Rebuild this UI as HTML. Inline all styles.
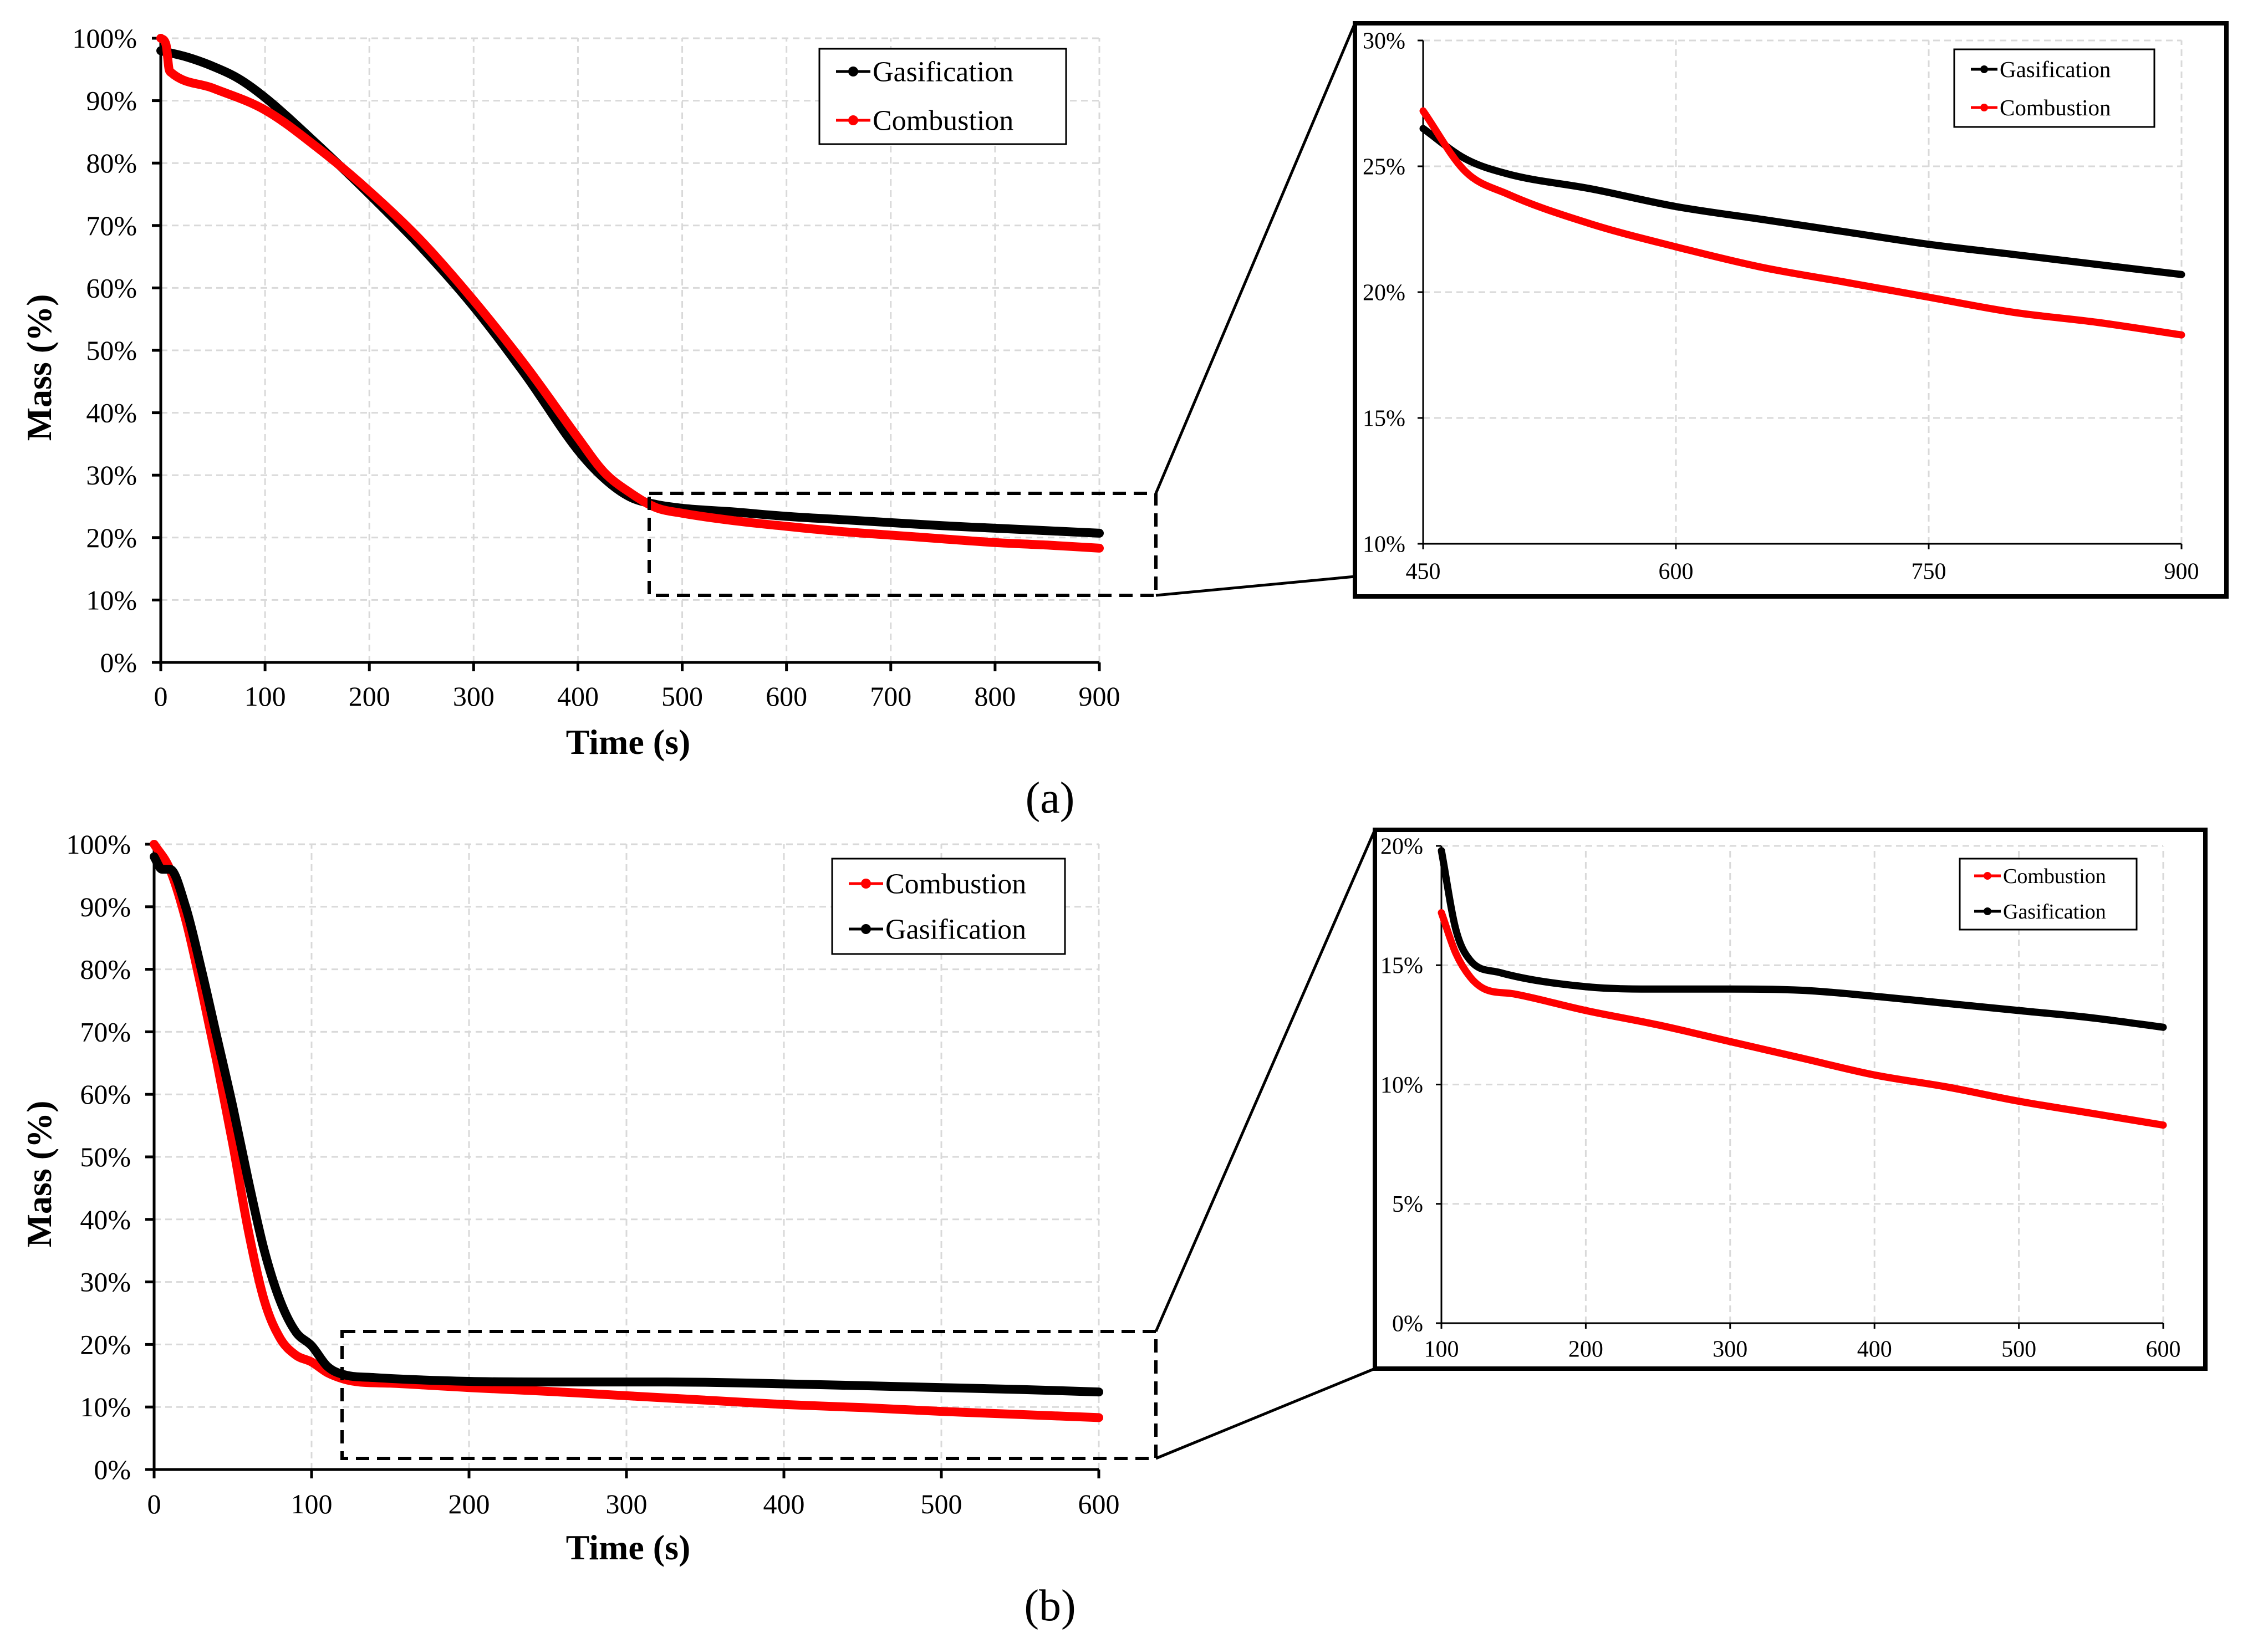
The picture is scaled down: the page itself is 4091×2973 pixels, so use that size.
<!DOCTYPE html>
<html><head><meta charset="utf-8"><style>
html,body{margin:0;padding:0;background:#fff;}
svg{display:block;font-family:"Liberation Serif",serif;}
</style></head><body>
<svg id="fig" width="4091" height="2973" viewBox="0 0 4091 2973" xmlns="http://www.w3.org/2000/svg"></svg>
<script>
// ---- Data: panel (a) ----
const aGasT = [0,25,50,75,100,150,200,250,300,350,400,425,450,475,500,550,600,650,700,750,800,850,900];
const aGasV = [98,97,95.5,93.5,90.5,83,75,66.5,57,46,34,29.5,26.5,25.3,24.7,24.1,23.4,22.9,22.4,21.9,21.5,21.1,20.7];
const aComT = [0,5,8,10,50,100,150,200,250,300,350,400,425,450,475,500,550,600,650,700,750,800,850,900];
const aComV = [100,99,95,94.5,92,88.5,82.5,75.5,67.5,58,47.5,36,30.5,27.2,24.8,23.9,22.7,21.8,21.0,20.4,19.8,19.2,18.8,18.3];
// ---- Data: panel (b) ----
const bComT = [0,10,20,30,40,50,60,70,80,90,100,110,120,130,150,200,250,300,350,400,450,500,550,600];
const bComV = [100,96,88,77,65,52,38,27,21,18.3,17.2,15.5,14.5,14.0,13.8,13.1,12.5,11.8,11.1,10.4,9.9,9.3,8.8,8.3];
const bGasT = [0,5,10,20,30,40,50,60,70,80,90,100,110,120,140,200,250,300,350,400,450,500,550,600];
const bGasV = [98,96,96,90,80,69,58,46,35,27,22,19.8,16.5,15.2,14.7,14.1,14.0,14.0,13.95,13.7,13.4,13.1,12.8,12.4];
// ---- ticks ----
const mainYTicks = [0,10,20,30,40,50,60,70,80,90,100];
const aXTicks = [0,100,200,300,400,500,600,700,800,900];
const bXTicks = [0,100,200,300,400,500,600];
const aInsetY = [10,15,20,25,30];
const aInsetX = [450,600,750,900];
const bInsetY = [0,5,10,15,20];
const bInsetX = [100,200,300,400,500,600];

const NS = "http://www.w3.org/2000/svg";
const svg = document.getElementById('fig');
function mk(tag, attrs, parent, text){
  const e = document.createElementNS(NS, tag);
  for (const k in attrs) e.setAttribute(k, attrs[k]);
  if (text !== undefined) e.textContent = text;
  (parent || svg).appendChild(e);
  return e;
}
function scale(d0,d1,r0,r1){return v => r0 + (v-d0)/(d1-d0)*(r1-r0);}
// monotone cubic path through points
function smoothPath(P){
  const n = P.length;
  if (n < 3) return 'M' + P.map(p => p[0].toFixed(1)+','+p[1].toFixed(1)).join(' L');
  const d = [], m = [];
  for (let i = 0; i < n-1; i++) d.push((P[i+1][1]-P[i][1])/(P[i+1][0]-P[i][0]));
  m.push(d[0]);
  for (let i = 1; i < n-1; i++) m.push(d[i-1]*d[i] <= 0 ? 0 : (d[i-1]+d[i])/2);
  m.push(d[n-2]);
  for (let i = 0; i < n-1; i++) {
    if (d[i] === 0) { m[i] = 0; m[i+1] = 0; continue; }
    const a = m[i]/d[i], b = m[i+1]/d[i], s = a*a+b*b;
    if (s > 9) { const t = 3/Math.sqrt(s); m[i] = t*a*d[i]; m[i+1] = t*b*d[i]; }
  }
  let s = 'M' + P[0][0].toFixed(1) + ',' + P[0][1].toFixed(1);
  for (let i = 0; i < n-1; i++) {
    const h = (P[i+1][0]-P[i][0])/3;
    s += ' C' + (P[i][0]+h).toFixed(1) + ',' + (P[i][1]+m[i]*h).toFixed(1) + ' ' +
         (P[i+1][0]-h).toFixed(1) + ',' + (P[i+1][1]-m[i+1]*h).toFixed(1) + ' ' +
         P[i+1][0].toFixed(1) + ',' + P[i+1][1].toFixed(1);
  }
  return s;
}

function chart(cfg){
  const g = mk('g', {});
  
  
  const xs = scale(cfg.xd[0], cfg.xd[1], cfg.px[0], cfg.px[1]);
  const ys = scale(cfg.yd[0], cfg.yd[1], cfg.py[0], cfg.py[1]);
  cfg.yt.forEach(v => {
    if (v === cfg.yd[0]) return;
    const l = mk('line', {x1:cfg.px[0], x2:cfg.px[1], y1:ys(v), y2:ys(v), stroke:'#d9d9d9', 'stroke-width':3, 'stroke-dasharray':'12,8'}, g);
    
    
  });
  cfg.xt.forEach(v => {
    if (v === cfg.xd[0]) return;
    const l = mk('line', {x1:xs(v), x2:xs(v), y1:cfg.py[0], y2:cfg.py[1], stroke:'#d9d9d9', 'stroke-width':3, 'stroke-dasharray':'12,8'}, g);
    
    
  });
  const ax = mk('line', {x1:cfg.px[0], x2:cfg.px[0], y1:cfg.py[0], y2:cfg.py[1], stroke:'#000', 'stroke-width':cfg.aw}, g);
  
  
  const bx = mk('line', {x1:cfg.px[0], x2:cfg.px[1], y1:cfg.py[0], y2:cfg.py[0], stroke:'#000', 'stroke-width':cfg.aw}, g);
  
  
  cfg.yt.forEach(v => {
    const t = mk('line', {x1:cfg.px[0]-cfg.tk, x2:cfg.px[0], y1:ys(v), y2:ys(v), stroke:'#000', 'stroke-width':cfg.aw}, g);
    
    
    const tx = mk('text', {x:cfg.ylx, y:ys(v)+cfg.fs*0.34, 'font-size':cfg.fs, 'text-anchor':'end', fill:'#000'}, g, v + '%');
    
    
  });
  cfg.xt.forEach(v => {
    const t = mk('line', {x1:xs(v), x2:xs(v), y1:cfg.py[0], y2:cfg.py[0]+cfg.tk, stroke:'#000', 'stroke-width':cfg.aw}, g);
    
    
    const tx = mk('text', {x:xs(v), y:cfg.xly + cfg.fs*0.34, 'font-size':cfg.fs, 'text-anchor':'middle', fill:'#000'}, g, String(v));
    
    
  });
  cfg.series.forEach(s => {
    const pts = [];
    for (let i = 0; i < s.t.length; i++) {
      if (s.t[i] < cfg.xd[0] || s.t[i] > cfg.xd[1]) continue;
      pts.push([xs(s.t[i]), ys(s.v[i])]);
    }
    const p = mk('path', {d:smoothPath(pts), fill:'none', stroke:s.c, 'stroke-width':cfg.lw, 'stroke-linejoin':'round', 'stroke-linecap':'round'}, g);
    
    
  });
  const L = cfg.leg;
  const lg = mk('g', {}, g);
  
  
  mk('rect', {x:L.x, y:L.y, width:L.w, height:L.h, fill:'#fff', stroke:'#000', 'stroke-width':3}, lg);
  L.items.forEach(it => {
    const e = mk('g', {}, lg);
    
    
    mk('line', {x1:L.x+L.m0, x2:L.x+L.m1, y1:it.y, y2:it.y, stroke:it.c, 'stroke-width':5}, e);
    mk('circle', {cx:L.x+(L.m0+L.m1)/2, cy:it.y, r:L.r, fill:it.c}, e);
    mk('text', {x:L.x+L.m1+4, y:it.y+L.fs*0.34, 'font-size':L.fs, fill:'#000'}, e, it.label);
  });
  return {xs, ys};
}

chart({name:'chart-a-main', xd:[0,900], yd:[0,100], px:[290,1983], py:[1195,69], xt:aXTicks, yt:mainYTicks,
  aw:5, tk:16, fs:50, ylx:247, xly:1256, lw:16,
  series:[{n:'series-a-gasification', t:aGasT, v:aGasV, c:'#000'},{n:'series-a-combustion', t:aComT, v:aComV, c:'#ff0000'}],
  leg:{x:1478, y:88, w:445, h:172, m0:30, m1:92, r:9, fs:52, items:[{y:129,c:'#000',label:'Gasification'},{y:217,c:'#ff0000',label:'Combustion'}]}});
chart({name:'chart-a-inset', xd:[450,900], yd:[10,30], px:[2567,3935], py:[981,73], xt:aInsetX, yt:aInsetY,
  aw:3, tk:10, fs:42, ylx:2535, xly:1030, lw:13,
  series:[{n:'series-a-inset-gasification', t:aGasT, v:aGasV, c:'#000'},{n:'series-a-inset-combustion', t:aComT, v:aComV, c:'#ff0000'}],
  leg:{x:3525, y:89, w:361, h:140, m0:30, m1:78, r:7, fs:41, items:[{y:125,c:'#000',label:'Gasification'},{y:194,c:'#ff0000',label:'Combustion'}]}});
chart({name:'chart-b-main', xd:[0,600], yd:[0,100], px:[278,1982], py:[2651,1523], xt:bXTicks, yt:mainYTicks,
  aw:5, tk:16, fs:50, ylx:236, xly:2713, lw:16,
  series:[{n:'series-b-combustion', t:bComT, v:bComV, c:'#ff0000'},{n:'series-b-gasification', t:bGasT, v:bGasV, c:'#000'}],
  leg:{x:1501, y:1549, w:420, h:172, m0:30, m1:92, r:9, fs:52, items:[{y:1594,c:'#ff0000',label:'Combustion'},{y:1676,c:'#000',label:'Gasification'}]}});
chart({name:'chart-b-inset', xd:[100,600], yd:[0,20], px:[2600,3902], py:[2387,1526], xt:bInsetX, yt:bInsetY,
  aw:3, tk:10, fs:42, ylx:2567, xly:2433, lw:13,
  series:[{n:'series-b-inset-combustion', t:bComT, v:bComV, c:'#ff0000'},{n:'series-b-inset-gasification', t:bGasT, v:bGasV, c:'#000'}],
  leg:{x:3535, y:1549, w:319, h:128, m0:26, m1:74, r:7, fs:38, items:[{y:1580,c:'#ff0000',label:'Combustion'},{y:1644,c:'#000',label:'Gasification'}]}});

function txt(name, attrs, s){
  const t = mk('text', attrs, svg, s);
  
  
}
txt('x-axis-title-a', {x:1133, y:1360, 'font-size':64, 'font-weight':'bold', 'text-anchor':'middle'}, 'Time (s)');
txt('y-axis-title-a', {x:0, y:0, 'font-size':64, 'font-weight':'bold', 'text-anchor':'middle', transform:'translate(92,663) rotate(-90)'}, 'Mass (%)');
txt('panel-label-a', {x:1894, y:1466, 'font-size':80, 'text-anchor':'middle'}, '(a)');
txt('x-axis-title-b', {x:1133, y:2813, 'font-size':64, 'font-weight':'bold', 'text-anchor':'middle'}, 'Time (s)');
txt('y-axis-title-b', {x:0, y:0, 'font-size':64, 'font-weight':'bold', 'text-anchor':'middle', transform:'translate(92,2118) rotate(-90)'}, 'Mass (%)');
txt('panel-label-b', {x:1894, y:2923, 'font-size':80, 'text-anchor':'middle'}, '(b)');

function shape(name, tag, attrs){
  const e = mk(tag, attrs);
  
  
}
shape('zoom-box-a', 'rect', {x:1171, y:890, width:914, height:184, fill:'none', stroke:'#000', 'stroke-width':6, 'stroke-dasharray':'24,14'});
shape('inset-frame-a', 'rect', {x:2444, y:42, width:1572, height:1034, fill:'none', stroke:'#000', 'stroke-width':8});
shape('connector-a-top', 'line', {x1:2085, y1:890, x2:2444, y2:42, stroke:'#000', 'stroke-width':5});
shape('connector-a-bottom', 'line', {x1:2085, y1:1074, x2:2444, y2:1040, stroke:'#000', 'stroke-width':5});
shape('zoom-box-b', 'rect', {x:617, y:2402, width:1468, height:229, fill:'none', stroke:'#000', 'stroke-width':6, 'stroke-dasharray':'24,14'});
shape('inset-frame-b', 'rect', {x:2480, y:1497, width:1498, height:972, fill:'none', stroke:'#000', 'stroke-width':8});
shape('connector-b-top', 'line', {x1:2085, y1:2402, x2:2480, y2:1497, stroke:'#000', 'stroke-width':5});
shape('connector-b-bottom', 'line', {x1:2085, y1:2631, x2:2480, y2:2469, stroke:'#000', 'stroke-width':5});
</script>
</body></html>
